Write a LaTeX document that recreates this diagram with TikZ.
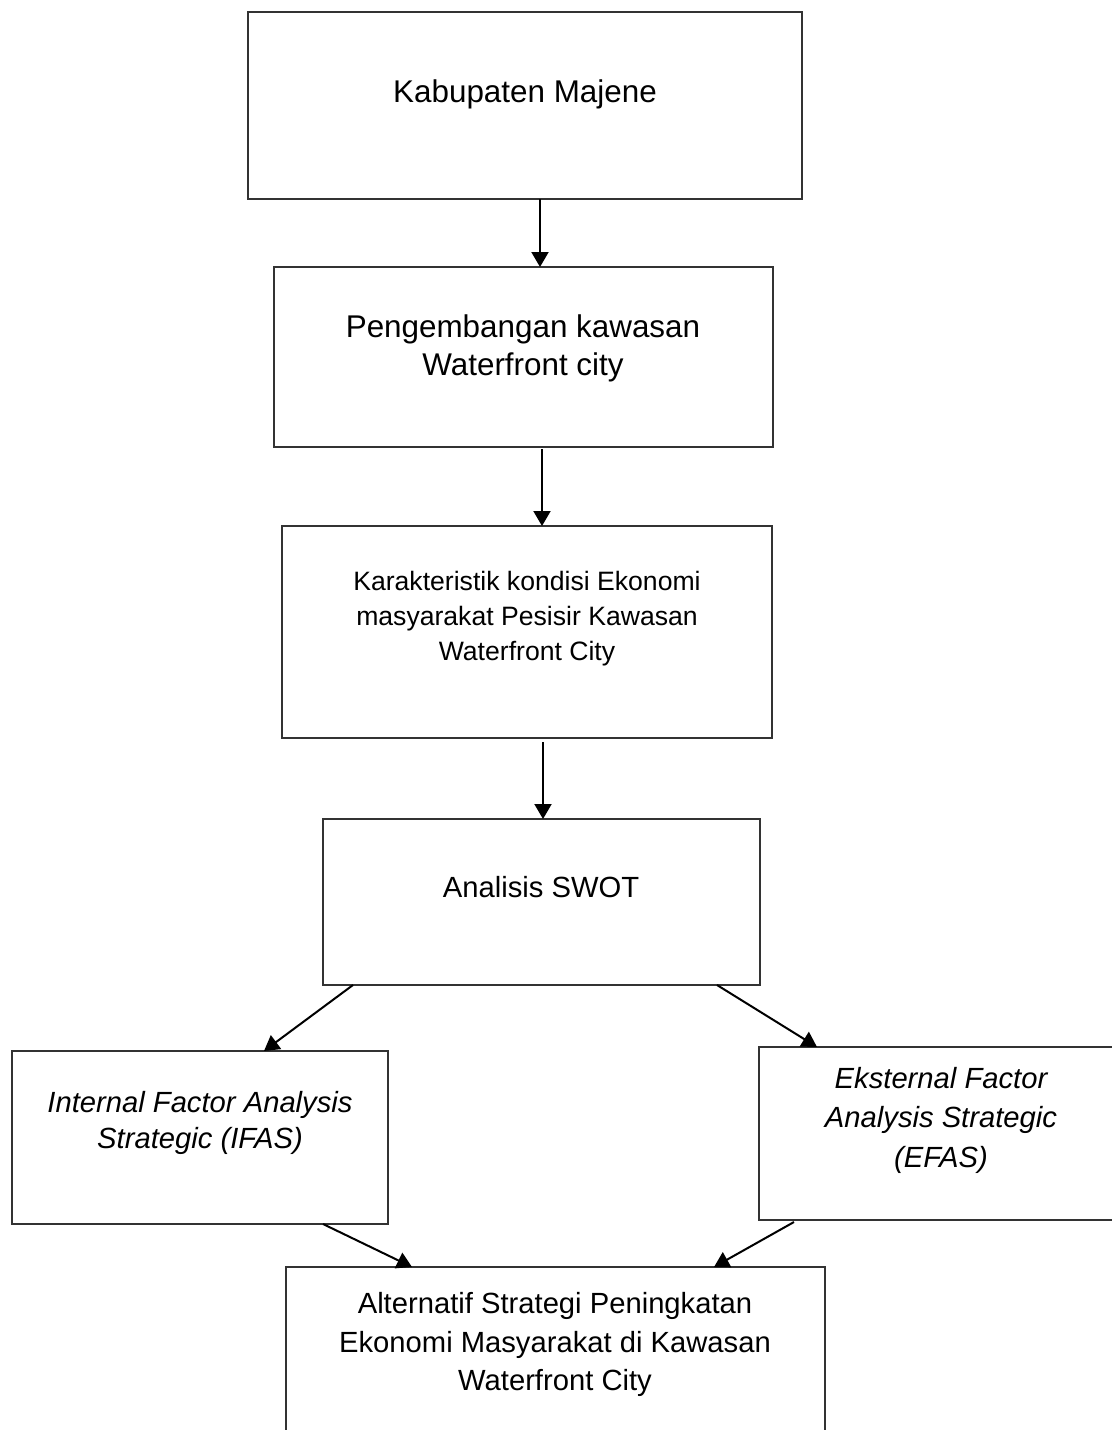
\documentclass[tikz,border=0pt]{standalone}
\usepackage{fontspec}
\setmainfont{Liberation Sans}
\usetikzlibrary{arrows.meta}
\begin{document}
\begin{tikzpicture}[x=0.5pt,y=-0.5pt,
  box/.style={draw=black!80, line width=0.75pt, inner sep=0pt, outer sep=0pt},
  txt/.style={inner sep=0pt, anchor=base, align=center},
  big/.style={font=\fontsize{15.7pt}{19pt}\selectfont},
  mid/.style={font=\fontsize{14.6pt}{18pt}\selectfont},
  sml/.style={font=\fontsize{13.3pt}{17.5pt}\selectfont},
  arr/.style={line width=1pt, -{Triangle[length=7.5pt,width=8.5pt]}}]
\useasboundingbox (0,0) rectangle (1112,1430);
\fill[white] (0,0) rectangle (1112,1430);
% boxes
\node[box, minimum width=277pt, minimum height=93.5pt] (b1) at (525,105.5) {};
\node[box, minimum width=249.5pt, minimum height=90pt] (b2) at (523.5,357) {};
\node[box, minimum width=245pt, minimum height=106pt] (b3) at (527,632) {};
\node[box, minimum width=218.5pt, minimum height=83pt] (b4) at (541.5,902) {};
\node[box, minimum width=188pt, minimum height=86.5pt] (b5) at (200,1137.5) {};
\node[box, minimum width=180pt, minimum height=86.5pt] (b6) at (939,1133.5) {};
\node[box, minimum width=269.5pt, minimum height=100pt] (b7) at (555.5,1367) {};
% texts
\node[txt, big] (t1) at (525,102) {Kabupaten Majene};
\node[txt, big] (t2a) at (523,337) {Pengembangan kawasan};
\node[txt, big] (t2b) at (523,375) {Waterfront city};
\node[txt, sml] (t3a) at (527,590) {Karakteristik kondisi Ekonomi};
\node[txt, sml] (t3b) at (527,625) {masyarakat Pesisir Kawasan};
\node[txt, sml] (t3c) at (527,660) {Waterfront City};
\node[txt, mid] (t4) at (541,897) {Analisis SWOT};
\node[txt, mid, font=\fontsize{14.6pt}{18pt}\selectfont\itshape] (t5a) at (200,1112) {Internal Factor Analysis};
\node[txt, mid, font=\fontsize{14.6pt}{18pt}\selectfont\itshape] (t5b) at (200,1148) {Strategic (IFAS)};
\node[txt, mid, font=\fontsize{14.6pt}{18pt}\selectfont\itshape] (t6a) at (941,1088) {Eksternal Factor};
\node[txt, mid, font=\fontsize{14.6pt}{18pt}\selectfont\itshape] (t6b) at (941,1127) {Analysis Strategic};
\node[txt, mid, font=\fontsize{14.6pt}{18pt}\selectfont\itshape] (t6c) at (941,1167) {(EFAS)};
\node[txt, mid] (t7a) at (555,1313) {Alternatif Strategi Peningkatan};
\node[txt, mid] (t7b) at (555,1352) {Ekonomi Masyarakat di Kawasan};
\node[txt, mid] (t7c) at (555,1390) {Waterfront City};
% arrows
\draw[arr] (b1.south -| 540,0) -- (b2.north -| 540,0);
\draw[arr] ([yshift=-1pt]b2.south -| 542,0) -- (b3.north -| 542,0);
\draw[arr] ([yshift=-2pt]b3.south -| 543,0) -- (b4.north -| 543,0);
\draw[arr] (b4.south -| 353,0) -- (b5.north -| 264,0);
\draw[arr] (b4.south -| 717,0) -- (b6.north -| 817,0);
\draw[arr] (b5.south -| 323,0) -- (b7.north -| 412,0);
\draw[arr] ([yshift=-1pt]b6.south -| 794,0) -- (b7.north -| 714,0);
\end{tikzpicture}
\end{document}
